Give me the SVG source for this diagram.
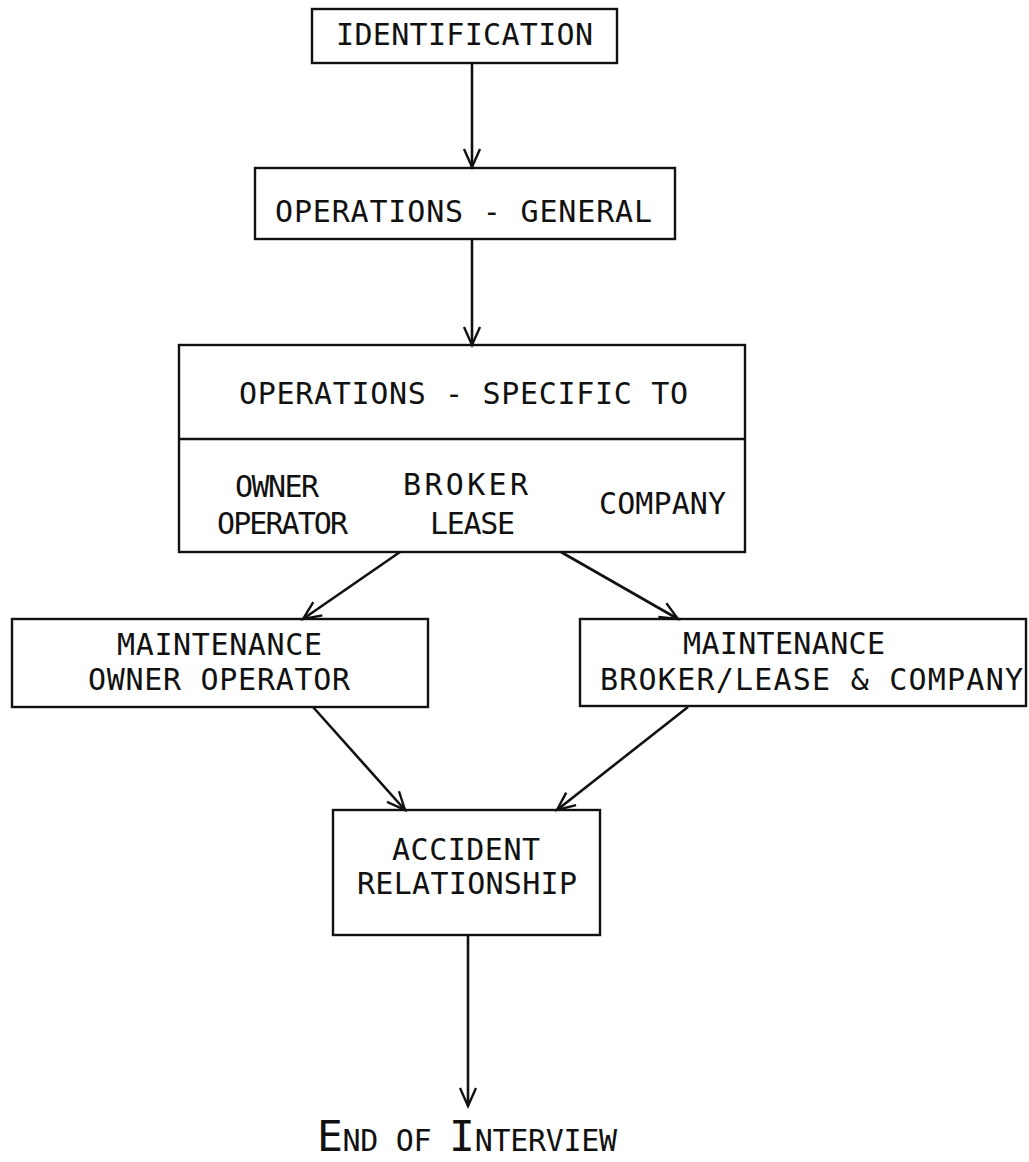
<svg xmlns="http://www.w3.org/2000/svg" width="1029" height="1162" viewBox="0 0 1029 1162">
  <style>
    .box { fill: none; stroke: #111; stroke-width: 2.4; }
    .edge { fill: none; stroke: #111; stroke-width: 2.6; }
    .lbl { font-family: "DejaVu Sans Mono", "Liberation Mono", monospace; font-size: 30px; fill: #111; }
  </style>
  <defs>
    <marker id="ah" markerWidth="20" markerHeight="18" refX="18" refY="9" orient="auto" markerUnits="userSpaceOnUse" overflow="visible">
      <path d="M0,1 L18,9 L0,17" fill="none" stroke="#111" stroke-width="2.4"/>
    </marker>
  </defs>
  <rect width="1029" height="1162" fill="#fff"/>

  <g id="connectors">
    <line class="edge" x1="472" y1="63" x2="472" y2="167" marker-end="url(#ah)"/>
    <line class="edge" x1="472" y1="239" x2="472" y2="345" marker-end="url(#ah)"/>
    <line class="edge" x1="400" y1="552" x2="303" y2="619" marker-end="url(#ah)"/>
    <line class="edge" x1="561" y1="552" x2="678" y2="619" marker-end="url(#ah)"/>
    <line class="edge" x1="313" y1="707" x2="405" y2="810" marker-end="url(#ah)"/>
    <line class="edge" x1="688" y1="707" x2="557" y2="810" marker-end="url(#ah)"/>
    <line class="edge" x1="468" y1="935" x2="468" y2="1106" marker-end="url(#ah)"/>
  </g>

  <g id="identification">
    <rect class="box" x="312" y="9" width="305" height="54"/>
    <text class="lbl" x="336" y="45" font-size="27" textLength="257" lengthAdjust="spacing">IDENTIFICATION</text>
  </g>

  <g id="operations-general">
    <rect class="box" x="255" y="168" width="420" height="71"/>
    <text class="lbl" x="275" y="222" textLength="377" lengthAdjust="spacing">OPERATIONS - GENERAL</text>
  </g>

  <g id="operations-specific">
    <rect class="box" x="179" y="345" width="566" height="207"/>
    <line class="box" x1="179" y1="439" x2="745" y2="439"/>
    <text class="lbl" x="239" y="404" font-size="34" textLength="449" lengthAdjust="spacing">OPERATIONS - SPECIFIC TO</text>
    <text class="lbl" x="235" y="497" textLength="84" lengthAdjust="spacing">OWNER</text>
    <text class="lbl" x="217" y="534" textLength="131" lengthAdjust="spacing">OPERATOR</text>
    <text class="lbl" x="403" y="495" textLength="125" lengthAdjust="spacing">BROKER</text>
    <text class="lbl" x="430" y="534" textLength="85" lengthAdjust="spacing">LEASE</text>
    <text class="lbl" x="599" y="514" textLength="127" lengthAdjust="spacing">COMPANY</text>
  </g>

  <g id="maintenance-owner">
    <rect class="box" x="12" y="619" width="416" height="88"/>
    <text class="lbl" x="117" y="655" textLength="205" lengthAdjust="spacing">MAINTENANCE</text>
    <text class="lbl" x="88" y="690" textLength="262" lengthAdjust="spacing">OWNER OPERATOR</text>
  </g>

  <g id="maintenance-broker">
    <rect class="box" x="580" y="619" width="446" height="87"/>
    <text class="lbl" x="683" y="654" textLength="202" lengthAdjust="spacing">MAINTENANCE</text>
    <text class="lbl" x="600" y="690" textLength="423" lengthAdjust="spacing">BROKER/LEASE &amp; COMPANY</text>
  </g>

  <g id="accident">
    <rect class="box" x="333" y="810" width="267" height="125"/>
    <text class="lbl" x="392" y="860" font-size="29" textLength="148" lengthAdjust="spacing">ACCIDENT</text>
    <text class="lbl" x="357" y="894" font-size="29" textLength="220" lengthAdjust="spacing">RELATIONSHIP</text>
  </g>

  <g id="end">
    <text class="lbl" x="317" y="1151" font-size="31" textLength="300" lengthAdjust="spacing"><tspan font-size="43">E</tspan>ND OF <tspan font-size="43">I</tspan>NTERVIEW</text>
  </g>
</svg>
